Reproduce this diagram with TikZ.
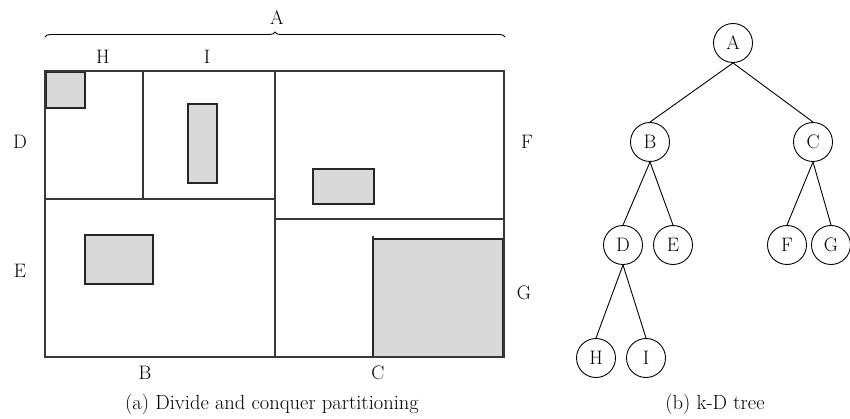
\documentclass[tikz,border=0pt]{standalone}
\usetikzlibrary{decorations.pathreplacing}
\begin{document}
\begin{tikzpicture}[x=1pt, y=-1pt, font=\fontsize{19.5}{21}\selectfont]
  \definecolor{partgray}{gray}{0.22}
  \definecolor{shadegray}{gray}{0.85}
  \tikzset{
    part/.style={draw=partgray, line width=1.1pt},
    shadedbox/.style={draw=black!85, line width=1.4pt, fill=shadegray},
    treenode/.style={circle, draw, line width=0.9pt, minimum size=39pt, inner sep=0pt},
    treeedge/.style={line width=0.9pt},
    caption/.style={font=\fontsize{20.5}{22}\selectfont}
  }
  \useasboundingbox (0,0) rectangle (850,419);

  % divide and conquer partitioning
  \draw[decorate, decoration={brace, amplitude=5pt}, line width=0.9pt] (45,37) -- (505,37);
  \node (lA) at (277,18) {A};
  \node (lH) at (103,57) {H};
  \node (lI) at (207,57) {I};
  \node (lD) at (20,142) {D};
  \node (lE) at (20,271) {E};
  \node (lF) at (527,142) {F};
  \node (lG) at (524,293) {G};
  \node (lB) at (145,373) {B};
  \node (lC) at (378,373) {C};

  \draw[shadedbox] (46,72) rectangle (85,108);
  \draw[shadedbox] (188,104) rectangle (217,183);
  \draw[shadedbox] (313,169) rectangle (374,204);
  \draw[shadedbox] (85,235) rectangle (153,284);
  \draw[shadedbox] (373,239) rectangle (503,357);

  \draw[part] (45,71) rectangle (504,357);
  \draw[part] (275,71) -- (275,357);
  \draw[part] (45,199) -- (275,199);
  \draw[part] (143,71) -- (143,199);
  \draw[part] (275,219) -- (504,219);
  \draw[part] (373,236) -- (373,239);

  \node[caption] (capA) at (272,404) {(a) Divide and conquer partitioning};

  % k-D tree
  \node[treenode] (tA) at (733,43) {A};
  \node[treenode] (tB) at (650,142) {B};
  \node[treenode] (tC) at (813,142) {C};
  \node[treenode] (tD) at (623,245) {D};
  \node[treenode] (tE) at (673,245) {E};
  \node[treenode] (tF) at (787,245) {F};
  \node[treenode] (tG) at (831,245) {G};
  \node[treenode] (tH) at (596,358) {H};
  \node[treenode] (tI) at (646,358) {I};
  \foreach \from/\to in {tA/tB, tA/tC, tB/tD, tB/tE, tC/tF, tC/tG, tD/tH, tD/tI}
    \draw[treeedge] (\from.south) -- (\to.north);

  \node[caption] (capB) at (715,404) {(b) k-D tree};
\end{tikzpicture}
\end{document}
